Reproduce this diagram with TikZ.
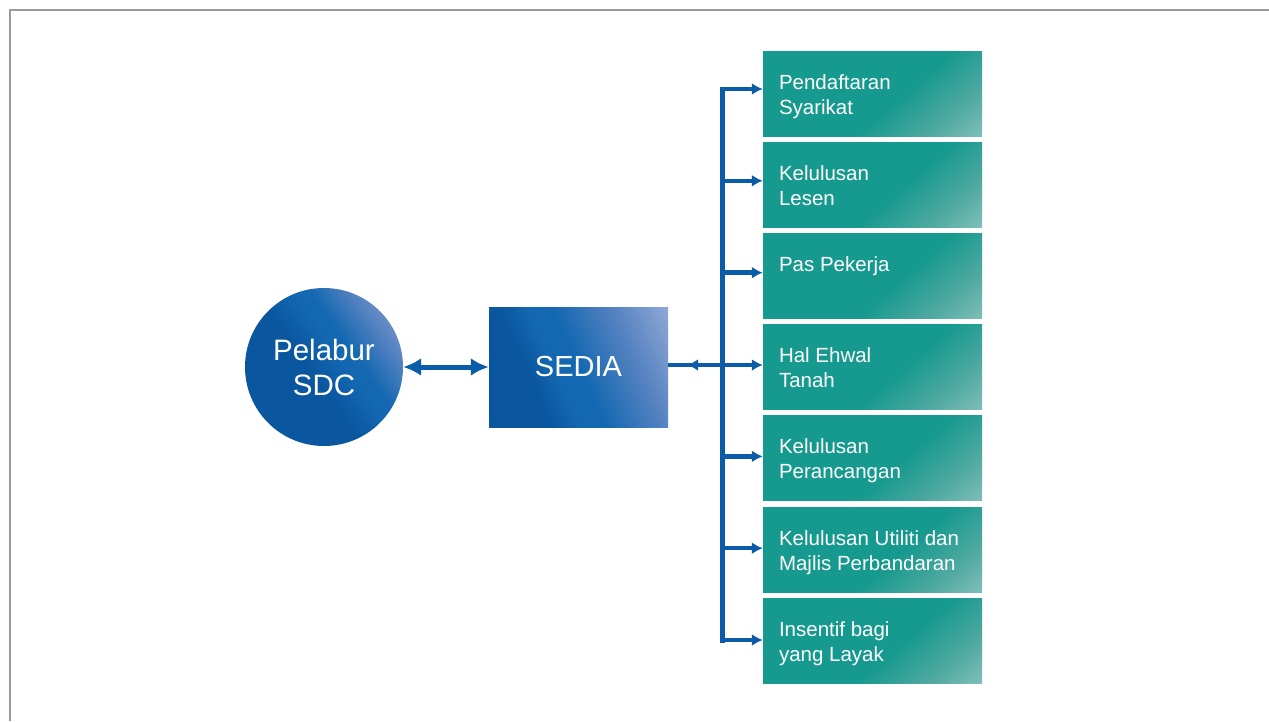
\documentclass[tikz,border=0pt]{standalone}
\usepackage{fontspec}
\setmainfont{Liberation Sans}
\usetikzlibrary{arrows.meta, decorations.markings}

\definecolor{sdcteal}{HTML}{16998E}
\definecolor{sdctealmid}{HTML}{4EA9A1}
\definecolor{sdctealpale}{HTML}{8FC5C0}
\definecolor{sdcbluedark}{HTML}{0A57A0}
\definecolor{sdcbluemid}{HTML}{1368B1}
\definecolor{sdcbluesoft}{HTML}{5582C1}
\definecolor{sdcbluepale}{HTML}{93AAD7}
\definecolor{sdcline}{HTML}{0A5BA8}
\definecolor{sdcframe}{HTML}{9A9A9A}

\pgfdeclarehorizontalshading{tealfade}{100bp}{color(0bp)=(sdcteal); color(57bp)=(sdcteal); color(73bp)=(sdctealmid); color(89bp)=(sdctealpale); color(100bp)=(sdctealpale)}
\pgfdeclarehorizontalshading{bluefade}{100bp}{color(0bp)=(sdcbluedark); color(35bp)=(sdcbluedark); color(43bp)=(sdcbluemid); color(50bp)=(sdcbluemid); color(67bp)=(sdcbluesoft); color(84bp)=(sdcbluepale); color(100bp)=(sdcbluepale)}
\pgfdeclarehorizontalshading{orbfade}{100bp}{color(0bp)=(sdcbluedark); color(46bp)=(sdcbluedark); color(56bp)=(sdcbluemid); color(60bp)=(sdcbluemid); color(71bp)=(sdcbluesoft); color(85bp)=(sdcbluepale); color(100bp)=(sdcbluepale)}

\begin{document}
\begin{tikzpicture}[x=1pt, y=-1pt,
  office/.style={rectangle, minimum width=219pt, minimum height=85pt, inner sep=0pt, shading=tealfade, shading angle=-49},
  hub/.style={rectangle, minimum width=179pt, minimum height=120pt, inner sep=0pt, shading=bluefade, shading angle=24, text=white, font=\fontsize{29}{35}\selectfont},
  investor/.style={circle, minimum size=158pt, inner sep=0pt, shading=orbfade, shading angle=35, text=white, align=center, font=\fontsize{29.5}{35}\selectfont},
  caption/.style={anchor=north west, inner sep=0pt, text=white, align=left, font=\fontsize{20.5}{25}\selectfont, xshift=16pt, yshift=-23.2pt},
  link/.style={draw=sdcline, line width=4.5pt},
  tip/.style={-{Latex[length=11pt,width=12pt]}}]
  \useasboundingbox (0,0) rectangle (1269,721);
  \draw[sdcframe, line width=2pt] (10,721) -- (10,10) -- (1269,10);
  \node[investor] (pel) at (324,367) {Pelabur\\SDC};
  \node[hub] (sedia) at (578.5,367) {SEDIA};
  \node[office] (b1) at (872.5,93.5) {};
  \node[office] (b2) at (872.5,184.7) {};
  \node[office] (b3) at (872.5,275.9) {};
  \node[office] (b4) at (872.5,367.1) {};
  \node[office] (b5) at (872.5,458.3) {};
  \node[office] (b6) at (872.5,549.5) {};
  \node[office] (b7) at (872.5,640.7) {};
  \node[caption] (t1) at (b1.north west) {Pendaftaran\\Syarikat};
  \node[caption] (t2) at (b2.north west) {Kelulusan\\Lesen};
  \node[caption] (t3) at (b3.north west) {Pas Pekerja};
  \node[caption] (t4) at (b4.north west) {Hal Ehwal\\Tanah};
  \node[caption] (t5) at (b5.north west) {Kelulusan\\Perancangan};
  \node[caption] (t6) at (b6.north west) {Kelulusan Utiliti dan\\Majlis Perbandaran};
  \node[caption] (t7) at (b7.north west) {Insentif bagi\\yang Layak};
  \coordinate (j1) at (722.5,89);
  \coordinate (j2) at (722.5,180.8);
  \coordinate (j3) at (722.5,272.7);
  \coordinate (j4) at (722.5,365);
  \coordinate (j5) at (722.5,456.4);
  \coordinate (j6) at (722.5,548.2);
  \coordinate (j7) at (722.5,640);
  \draw[link, line width=5pt, {Latex[length=18pt,width=18pt]}-{Latex[length=18pt,width=18pt]}] (pel.east) -- (sedia.west);
  \draw[link, line width=5pt, line cap=rect] (j1) -- (j7);
  \draw[link, postaction={decorate}, decoration={markings, mark=at position 0.65 with {\arrow{Latex[length=11pt,width=12pt]}}}] (j4) -- (j4 -| sedia.east);
  \draw[link, tip] (j1) -- (j1 -| b1.west);
  \draw[link, tip] (j2) -- (j2 -| b2.west);
  \draw[link, tip] (j3) -- (j3 -| b3.west);
  \draw[link, tip] (j4) -- (j4 -| b4.west);
  \draw[link, tip] (j5) -- (j5 -| b5.west);
  \draw[link, tip] (j6) -- (j6 -| b6.west);
  \draw[link, tip] (j7) -- (j7 -| b7.west);
\end{tikzpicture}
\end{document}
